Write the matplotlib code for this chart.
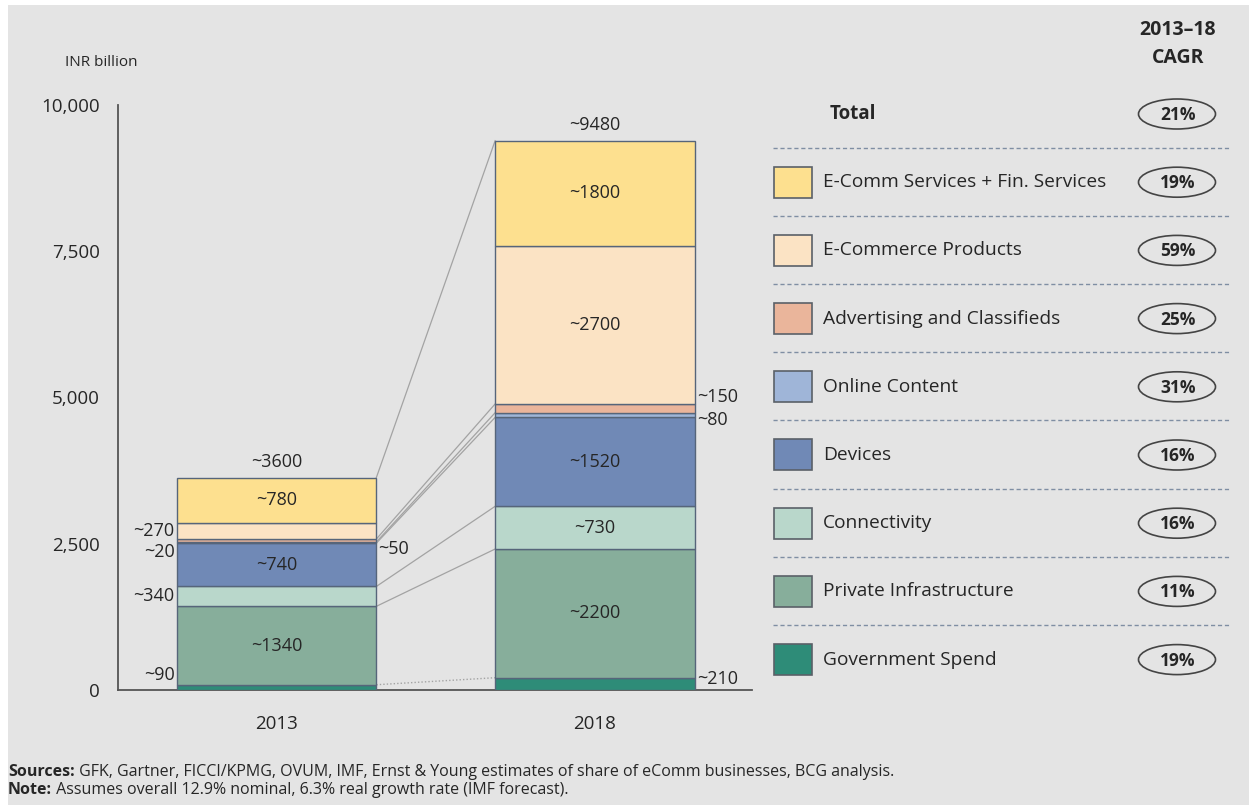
import matplotlib.pyplot as plt
import matplotlib.ticker as mticker
from matplotlib.patches import Ellipse, Rectangle

plt.rcParams["font.family"] = ["Open Sans", "DejaVu Sans"]

# Stacked segments, bottom to top
YEARS = ["2013", "2018"]
SEGMENTS = [
    "Government Spend",
    "Private Infrastructure",
    "Connectivity",
    "Devices",
    "Online Content",
    "Advertising and Classifieds",
    "E-Commerce Products",
    "E-Comm Services + Fin. Services",
]
VALUES_2013 = [90, 1340, 340, 740, 20, 50, 270, 780]
VALUES_2018 = [210, 2200, 730, 1520, 80, 150, 2700, 1800]
TOTALS = [3600, 9480]
CAGR = ["19%", "11%", "16%", "16%", "31%", "25%", "59%", "19%"]
TOTAL_CAGR = "21%"
YTICKS = [0, 2500, 5000, 7500, 10000]

COLORS = {
    "Government Spend": "#2e8c78",
    "Private Infrastructure": "#87ae9b",
    "Connectivity": "#b9d7cb",
    "Devices": "#7089b6",
    "Online Content": "#9fb5d8",
    "Advertising and Classifieds": "#eab59b",
    "E-Commerce Products": "#fbe3c4",
    "E-Comm Services + Fin. Services": "#fde08f",
}
BG = "#e4e4e4"
TEXT = "#262626"
EDGE = "#56657a"
LINK = "#a3a3a3"

# where each bar label goes: inside, or beside the bar (with a small nudge in px)
SIDE_2013 = ["left", "in", "left", "in", "left", "right", "left", "in"]
SIDE_2018 = ["right", "in", "in", "in", "right", "right", "in", "in"]
NUDGE_2013 = [12, 0, 0, 0, -9, -8, 0, 0]
NUDGE_2018 = [5, 0, 0, 0, -5, 11, 0, 0]
LINK_AT = [2, 3, 4, 5, 6, 8]

PX = 0.72  # pixels -> points at 100 dpi
LBL = 13

fig = plt.figure(figsize=(12.49, 8.11), dpi=100, facecolor="white")
ov = fig.add_axes([0, 0, 1, 1], zorder=0)
ov.set_xlim(0, 1249)
ov.set_ylim(811, 0)
ov.axis("off")
ov.add_patch(Rectangle((8, 5), 1241, 800, facecolor=BG, edgecolor="none"))

ax = fig.add_axes([118 / 1249, 1 - 690 / 811, (752 - 118) / 1249, 585 / 811], zorder=1)
ax.patch.set_alpha(0)

x = [0, 1]
width = 0.627
bottoms = [0, 0]
bounds = [[0], [0]]
for i, seg in enumerate(SEGMENTS):
    vals = [VALUES_2013[i], VALUES_2018[i]]
    ax.bar(x, vals, width, bottom=bottoms, color=COLORS[seg], edgecolor=EDGE,
           linewidth=1.0, zorder=3)
    bottoms = [b + v for b, v in zip(bottoms, vals)]
    bounds[0].append(bottoms[0])
    bounds[1].append(bottoms[1])

# connector lines between the two stacks
x0, x1 = x[0] + width / 2, x[1] - width / 2
ax.plot([x0, x1], [bounds[0][1], bounds[1][1]], color=LINK, lw=1.0, ls=(0, (1, 1.5)), zorder=2)
for k in LINK_AT:
    ax.plot([x0, x1], [bounds[0][k], bounds[1][k]], color=LINK, lw=0.9, zorder=2)

# segment labels
for j, (vals, sides, nudges) in enumerate([(VALUES_2013, SIDE_2013, NUDGE_2013),
                                          (VALUES_2018, SIDE_2018, NUDGE_2018)]):
    for i, v in enumerate(vals):
        yc = bounds[j][i] + v / 2
        if sides[i] == "in":
            ax.annotate(f"~{v}", (x[j], yc), ha="center", va="center",
                        fontsize=LBL, color=TEXT, zorder=4)
        elif sides[i] == "left":
            ax.annotate(f"~{v}", (x[j] - width / 2, yc), xytext=(-2 * PX, nudges[i] * PX),
                        textcoords="offset points", ha="right", va="center",
                        fontsize=LBL, color=TEXT, zorder=4)
        else:
            ax.annotate(f"~{v}", (x[j] + width / 2, yc), xytext=(2 * PX, nudges[i] * PX),
                        textcoords="offset points", ha="left", va="center",
                        fontsize=LBL, color=TEXT, zorder=4)
    ax.annotate(f"~{TOTALS[j]}", (x[j], bounds[j][-1]), xytext=(0, 16 * PX),
                textcoords="offset points", ha="center", va="center",
                fontsize=LBL, color=TEXT, zorder=4)

ax.set_xlim(-0.4976, 1.493)
ax.set_ylim(0, 10000)
ax.set_yticks(YTICKS)
ax.yaxis.set_major_formatter(mticker.StrMethodFormatter("{x:,.0f}"))
ax.set_xticks(x, YEARS)
ax.tick_params(length=0, labelsize=13.5, colors=TEXT)
ax.tick_params(axis="y", pad=13)
ax.tick_params(axis="x", pad=18)
for s in ["top", "right"]:
    ax.spines[s].set_visible(False)
for s in ["left", "bottom"]:
    ax.spines[s].set_color("#555555")
    ax.spines[s].set_linewidth(1.3)

ov.text(65, 62, "INR billion", fontsize=11, color=TEXT, va="center")

# CAGR legend panel
ov.text(1178, 30, "2013\u201318", fontsize=14, fontweight="bold", color=TEXT, ha="center", va="center")
ov.text(1178, 58, "CAGR", fontsize=14, fontweight="bold", color=TEXT, ha="center", va="center")


def pill(y, label):
    ov.add_patch(Ellipse((1177, y), 77, 30, facecolor="none", edgecolor="#444444", lw=1.2))
    ov.text(1178, y + 1, label, fontsize=12.5, fontweight="bold", color=TEXT, ha="center", va="center")


ov.text(830, 114, "Total", fontsize=13.5, fontweight="bold", color=TEXT, va="center")
pill(114, TOTAL_CAGR)
row_y = 114
for seg, rate in zip(SEGMENTS[::-1], CAGR[::-1]):
    row_y += 68.2
    ov.plot([773, 1230], [row_y - 34.5] * 2, color="#7f8ea3", lw=1.0, ls=(0, (3, 2)))
    ov.add_patch(Rectangle((774, row_y - 15.5), 38, 31, facecolor=COLORS[seg],
                           edgecolor="#5a6068", lw=1.2))
    ov.text(823, row_y, seg, fontsize=13.8, color=TEXT, va="center")
    pill(row_y, rate)

# footer notes
src = ov.text(8, 772, "Sources:", fontsize=11.5, fontweight="bold", color=TEXT, va="center")
ov.annotate(" GFK, Gartner, FICCI/KPMG, OVUM, IMF, Ernst & Young estimates of share of eComm businesses, BCG analysis.",
            xy=(1, 0.5), xycoords=src, fontsize=11.5, color=TEXT, va="center")
note = ov.text(8, 790, "Note:", fontsize=11.5, fontweight="bold", color=TEXT, va="center")
ov.annotate(" Assumes overall 12.9% nominal, 6.3% real growth rate (IMF forecast).",
            xy=(1, 0.5), xycoords=note, fontsize=11.5, color=TEXT, va="center")

fig.savefig("out.png", dpi=100, facecolor="white")
